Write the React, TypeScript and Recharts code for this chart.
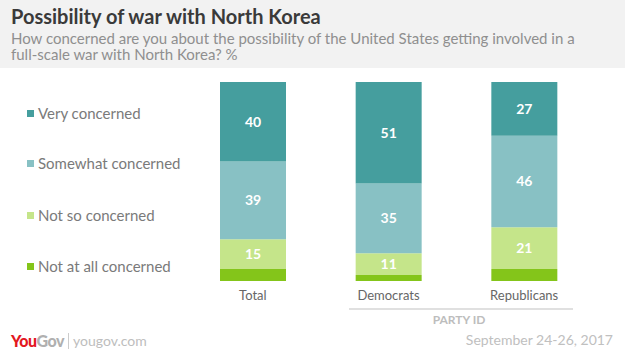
import { BarChart, Bar, XAxis, YAxis, LabelList } from 'recharts';

const groups = ['Total', 'Democrats', 'Republicans'];
const veryConcerned = [40, 51, 27];
const somewhatConcerned = [39, 35, 46];
const notSoConcerned = [15, 11, 21];
const notAtAllConcerned = [6, 3, 6];

const seriesNames = [
  'Very concerned',
  'Somewhat concerned',
  'Not so concerned',
  'Not at all concerned',
];
const seriesColors = ['#459e9e', '#88c1c4', '#c5e58a', '#84c51a'];

const title = 'Possibility of war with North Korea';
const subtitle =
  'How concerned are you about the possibility of the United States getting involved in a full-scale war with North Korea? %';
const groupLabel = 'PARTY ID';
const dateText = 'September 24-26, 2017';

const FONT = 'Lato, "Open Sans", sans-serif';

export default function App() {
  const data = groups.map((g, i) => ({
    name: g,
    very: veryConcerned[i],
    somewhat: somewhatConcerned[i],
    notSo: notSoConcerned[i],
    notAtAll: notAtAllConcerned[i],
  }));

  const labelStyle = { fill: '#fff', fontSize: 14, fontWeight: 700, fontFamily: FONT };

  return (
    <div
      style={{
        position: 'absolute',
        left: 0,
        top: 0,
        width: 625,
        height: 351,
        background: '#fff',
        fontFamily: FONT,
        overflow: 'hidden',
      }}
    >
      <div
        style={{
          position: 'absolute',
          left: 0,
          top: 0,
          width: 625,
          height: 68,
          background: '#f2f2f2',
        }}
      />
      <div
        style={{
          position: 'absolute',
          left: 11,
          top: 4,
          fontSize: 20,
          fontWeight: 700,
          color: '#3a3a3a',
          whiteSpace: 'nowrap',
        }}
      >
        {title}
      </div>
      <div
        style={{
          position: 'absolute',
          left: 11,
          top: 30,
          width: 588,
          fontSize: 15,
          lineHeight: '16px',
          color: '#8f8f8f',
        }}
      >
        {subtitle}
      </div>

      {/* legend */}
      {seriesNames.map((name, i) => (
        <div
          key={name}
          style={{
            position: 'absolute',
            left: 27,
            top: [113, 163, 215, 266][i] - 9,
            height: 18,
            display: 'flex',
            alignItems: 'center',
            fontSize: 15,
            color: '#7a7a7a',
            whiteSpace: 'nowrap',
          }}
        >
          <span
            style={{
              display: 'inline-block',
              width: 7,
              height: 7,
              background: seriesColors[i],
              marginRight: 4,
            }}
          />
          {name}
        </div>
      ))}

      <div style={{ position: 'absolute', left: 0, top: 0 }}>
        <BarChart
          width={625}
          height={351}
          data={data}
          margin={{ top: 82, right: 33, left: 185, bottom: 40 }}
          barSize={66}
        >
          <XAxis
            dataKey="name"
            axisLine={false}
            tickLine={false}
            tickSize={0}
            tickMargin={10}
            height={30}
            tick={{ fill: '#666', fontSize: 13, fontFamily: FONT }}
          />
          <YAxis hide domain={[0, 100]} />
          <Bar dataKey="notAtAll" stackId="a" fill={seriesColors[3]} isAnimationActive={false} />
          <Bar dataKey="notSo" stackId="a" fill={seriesColors[2]} isAnimationActive={false}>
            <LabelList dataKey="notSo" position="center" style={labelStyle} />
          </Bar>
          <Bar dataKey="somewhat" stackId="a" fill={seriesColors[1]} isAnimationActive={false}>
            <LabelList dataKey="somewhat" position="center" style={labelStyle} />
          </Bar>
          <Bar dataKey="very" stackId="a" fill={seriesColors[0]} isAnimationActive={false}>
            <LabelList dataKey="very" position="center" style={labelStyle} />
          </Bar>
        </BarChart>
      </div>

      {/* party id group */}
      <div
        style={{
          position: 'absolute',
          left: 349,
          top: 308,
          width: 224,
          height: 2,
          background: '#e0e0e0',
        }}
      />
      <div
        style={{
          position: 'absolute',
          left: 349,
          top: 312,
          width: 220,
          textAlign: 'center',
          fontSize: 12,
          fontWeight: 700,
          color: '#bdbdbd',
        }}
      >
        {groupLabel}
      </div>

      {/* footer */}
      <div
        style={{
          position: 'absolute',
          left: 11,
          top: 331,
          display: 'flex',
          alignItems: 'center',
          whiteSpace: 'nowrap',
        }}
      >
        <span style={{ fontSize: 16, fontWeight: 900, color: '#e3181f', letterSpacing: -0.5 }}>You</span>
        <span style={{ fontSize: 16, fontWeight: 900, color: '#b0b0b0', letterSpacing: -0.5 }}>Gov</span>
        <span
          style={{
            display: 'inline-block',
            width: 1,
            height: 16,
            background: '#ccc',
            margin: '0 4px 0 4px',
          }}
        />
        <span style={{ fontSize: 14, color: '#bdbdbd' }}>yougov.com</span>
      </div>
      <div
        style={{
          position: 'absolute',
          right: 12,
          top: 331,
          fontSize: 14,
          color: '#c0c0c0',
          whiteSpace: 'nowrap',
        }}
      >
        {dateText}
      </div>
    </div>
  );
}
